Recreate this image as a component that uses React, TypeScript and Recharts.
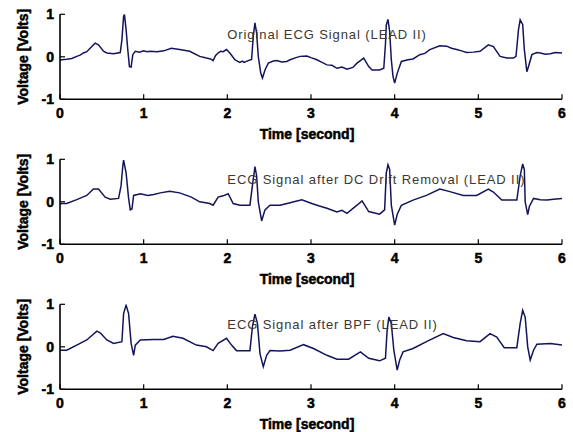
import React from 'react';
import { LineChart, Line, XAxis, YAxis, ReferenceDot } from 'recharts';

// ---- data (time in seconds, voltage in volts) ----
const xTicks = [0, 1, 2, 3, 4, 5, 6];
const yTicks = [-1, 0, 1];
const titles = [
  'Original ECG Signal (LEAD II)',
  'ECG Signal after DC Drift Removal (LEAD II)',
  'ECG Signal after BPF (LEAD II)',
];

const t1 = [0, 0.02, 0.08, 0.14, 0.2, 0.24, 0.28, 0.32, 0.36, 0.42, 0.46, 0.52, 0.56, 0.64, 0.72, 0.74, 0.76, 0.77, 0.79, 0.81, 0.83, 0.85, 0.87, 0.9, 0.95, 1.0, 1.04, 1.08, 1.16, 1.24, 1.33, 1.43, 1.55, 1.67, 1.75, 1.8, 1.83, 1.86, 1.89, 1.92, 1.95, 1.99, 2.03, 2.09, 2.12, 2.15, 2.18, 2.2, 2.25, 2.29, 2.31, 2.33, 2.35, 2.37, 2.4, 2.42, 2.45, 2.49, 2.55, 2.59, 2.65, 2.71, 2.75, 2.82, 2.87, 2.95, 3.0, 3.07, 3.12, 3.19, 3.25, 3.31, 3.37, 3.43, 3.5, 3.55, 3.63, 3.69, 3.73, 3.82, 3.87, 3.89, 3.9, 3.92, 3.94, 3.96, 3.98, 4.0, 4.03, 4.08, 4.16, 4.22, 4.3, 4.36, 4.42, 4.54, 4.62, 4.68, 4.74, 4.8, 4.86, 4.94, 5.02, 5.12, 5.18, 5.26, 5.34, 5.42, 5.45, 5.48, 5.5, 5.53, 5.55, 5.58, 5.6, 5.64, 5.7, 5.74, 5.8, 5.86, 5.92, 6.0];
const v1 = [-0.08, -0.07, -0.06, -0.04, 0.01, 0.04, 0.09, 0.12, 0.2, 0.32, 0.28, 0.13, 0.09, 0.07, 0.1, 0.4, 0.95, 1.0, 0.64, 0.17, -0.23, -0.24, 0.05, 0.13, 0.11, 0.14, 0.12, 0.13, 0.12, 0.14, 0.2, 0.17, 0.13, 0.01, -0.03, -0.05, -0.09, 0.03, 0.09, 0.13, 0.12, 0.17, 0.09, -0.07, -0.1, -0.13, -0.1, -0.13, -0.09, -0.06, 0.48, 0.8, 0.56, 0.01, -0.39, -0.5, -0.31, -0.15, -0.1, -0.09, -0.12, -0.11, -0.07, -0.02, 0.01, 0.02, -0.02, -0.07, -0.12, -0.19, -0.2, -0.27, -0.24, -0.29, -0.25, -0.15, -0.03, -0.23, -0.31, -0.31, -0.27, 0.3, 0.75, 0.88, 0.6, -0.07, -0.46, -0.62, -0.39, -0.11, -0.07, -0.05, 0.05, 0.08, 0.17, 0.26, 0.25, 0.2, 0.17, 0.14, 0.1, 0.11, 0.13, 0.28, 0.24, 0.01, -0.03, -0.03, 0.01, 0.64, 0.87, 0.76, 0.17, -0.35, -0.23, 0.05, 0.1, 0.09, 0.06, 0.07, 0.1, 0.09];

const t2 = [0, 0.02, 0.08, 0.2, 0.32, 0.4, 0.46, 0.54, 0.6, 0.7, 0.73, 0.75, 0.76, 0.79, 0.82, 0.84, 0.86, 0.88, 0.96, 1.05, 1.12, 1.2, 1.31, 1.43, 1.57, 1.67, 1.79, 1.83, 1.89, 1.95, 2.01, 2.07, 2.15, 2.27, 2.3, 2.33, 2.35, 2.37, 2.41, 2.45, 2.51, 2.63, 2.75, 2.89, 3.01, 3.1, 3.19, 3.31, 3.37, 3.43, 3.55, 3.61, 3.69, 3.82, 3.88, 3.9, 3.92, 3.94, 3.96, 4.0, 4.03, 4.08, 4.22, 4.38, 4.54, 4.66, 4.82, 4.98, 5.12, 5.18, 5.28, 5.46, 5.5, 5.53, 5.55, 5.56, 5.59, 5.61, 5.66, 5.74, 5.82, 5.9, 6.0];
const v2 = [-0.05, -0.04, -0.04, 0.05, 0.15, 0.3, 0.3, 0.11, 0.06, 0.08, 0.38, 0.83, 0.98, 0.68, 0.08, -0.19, -0.17, 0.15, 0.19, 0.15, 0.17, 0.21, 0.25, 0.21, 0.11, 0, -0.04, -0.08, 0.11, 0.14, 0.19, -0.04, -0.08, -0.08, 0.38, 0.83, 0.61, 0, -0.45, -0.19, -0.08, -0.08, -0.02, 0.05, -0.04, -0.1, -0.15, -0.24, -0.2, -0.27, -0.08, 0.02, -0.23, -0.29, -0.19, 0.68, 0.87, 0.76, -0.08, -0.55, -0.3, -0.08, 0.04, 0.15, 0.3, 0.24, 0.15, 0.15, 0.3, 0.23, 0.04, 0.04, 0.61, 0.89, 0.76, 0, -0.3, -0.11, 0.08, 0.05, 0.04, 0.06, 0.08];

const t3 = [0, 0.02, 0.08, 0.2, 0.32, 0.44, 0.48, 0.56, 0.64, 0.74, 0.76, 0.79, 0.82, 0.85, 0.88, 0.9, 0.96, 1.12, 1.24, 1.35, 1.47, 1.63, 1.75, 1.83, 1.89, 1.99, 2.05, 2.11, 2.27, 2.3, 2.33, 2.36, 2.39, 2.43, 2.47, 2.51, 2.63, 2.75, 2.91, 3.03, 3.19, 3.31, 3.45, 3.59, 3.69, 3.82, 3.89, 3.91, 3.93, 3.96, 3.99, 4.03, 4.06, 4.1, 4.22, 4.38, 4.58, 4.7, 4.86, 5.02, 5.14, 5.22, 5.31, 5.46, 5.5, 5.53, 5.56, 5.59, 5.62, 5.66, 5.7, 5.86, 6.0];
const v3 = [-0.08, -0.08, -0.08, 0.04, 0.16, 0.37, 0.33, 0.16, 0.08, 0.12, 0.78, 0.98, 0.78, 0.08, -0.2, 0.04, 0.16, 0.17, 0.17, 0.25, 0.2, 0.04, 0, -0.09, 0.08, 0.2, 0.04, -0.09, -0.09, 0.47, 0.77, 0.55, -0.16, -0.47, -0.2, -0.09, -0.1, -0.08, 0.05, -0.04, -0.2, -0.29, -0.29, -0.12, -0.27, -0.33, -0.27, 0.39, 0.7, 0.55, -0.08, -0.55, -0.31, -0.12, -0.04, 0.12, 0.31, 0.22, 0.14, 0.12, 0.31, 0.23, -0.02, -0.02, 0.55, 0.86, 0.7, 0, -0.31, -0.08, 0.06, 0.08, 0.04];

const build = (t: number[], v: number[]) => t.map((x, i) => ({ t: x, v: v[i] }));
const series = [build(t1, v1), build(t2, v2), build(t3, v3)];

const FONT = '"Liberation Sans", Arial, sans-serif';
const LINE = '#14145a';

const EmptyTick = () => <g />;

function Panel({ data, title, top, height }: { data: any[]; title: string; top: number; height: number }) {
  const xAxisH = height - 14.3 - 85;
  const tickStyle = { fontFamily: FONT, fontSize: 14, fontWeight: 700, fill: '#000', stroke: '#000', strokeWidth: 0.5 };
  const labelStyle = { fontFamily: FONT, fontSize: 14, fontWeight: 700 };
  return (
    <div style={{ position: 'absolute', left: 0, top, width: 573, height }}>
      <LineChart width={573} height={height} data={data} margin={{ top: 14.3, right: 11, left: 0, bottom: 0 }}>
        <XAxis
          dataKey="t"
          type="number"
          domain={[0, 6]}
          ticks={xTicks}
          allowDataOverflow
          height={xAxisH}
          tickSize={-5}
          tickMargin={14}
          tick={tickStyle}
          axisLine={{ stroke: '#000', strokeWidth: 1.6 }}
          tickLine={{ stroke: '#000', strokeWidth: 1.2 }}
          label={(p: any) => {
            const vb = p.viewBox;
            return (
              <text x={vb.x + vb.width / 2 - 4} y={vb.y + 35} textAnchor="middle" dominantBaseline="central"
                style={labelStyle} fill="#000" stroke="#000" strokeWidth={0.5}>Time [second]</text>
            );
          }}
        />
        <XAxis
          xAxisId="top"
          orientation="top"
          type="number"
          domain={[0, 6]}
          ticks={xTicks}
          height={0}
          tickSize={-5}
          tick={EmptyTick}
          axisLine={{ stroke: '#000', strokeWidth: 1.6 }}
          tickLine={{ stroke: '#000', strokeWidth: 1.2 }}
        />
        <YAxis
          type="number"
          domain={[-1, 1]}
          ticks={yTicks}
          allowDataOverflow
          width={60}
          tickSize={-5}
          tickMargin={11}
          tick={tickStyle}
          axisLine={{ stroke: '#000', strokeWidth: 1.6 }}
          tickLine={{ stroke: '#000', strokeWidth: 1.2 }}
          label={(p: any) => {
            const vb = p.viewBox;
            const cy = vb.y + vb.height / 2;
            return (
              <text x={23} y={cy} transform={`rotate(-90, 23, ${cy})`} textAnchor="middle" dominantBaseline="central"
                style={labelStyle} fill="#000" stroke="#000" strokeWidth={0.5}>Voltage [Volts]</text>
            );
          }}
        />
        <YAxis
          yAxisId="right"
          orientation="right"
          type="number"
          domain={[-1, 1]}
          ticks={yTicks}
          width={0}
          tickSize={-5}
          tick={EmptyTick}
          axisLine={{ stroke: '#000', strokeWidth: 1.6 }}
          tickLine={{ stroke: '#000', strokeWidth: 1.2 }}
        />
        <Line dataKey="v" type="linear" stroke={LINE} strokeWidth={1.5} dot={false} isAnimationActive={false} />
        <ReferenceDot
          x={2}
          y={0.53}
          r={0}
          shape={(p: any) => (
            <text x={p.cx} y={p.cy} textAnchor="start" dominantBaseline="central"
              style={{ fontFamily: FONT, fontSize: 13, letterSpacing: '0.9px' }} fill="#3b3830">{title}</text>
          )}
        />
      </LineChart>
    </div>
  );
}

export default function App() {
  return (
    <div style={{ position: 'absolute', left: 0, top: 0, width: 573, height: 432, overflow: 'hidden', background: '#fff' }}>
      <Panel data={series[0]} title={titles[0]} top={0} height={145} />
      <Panel data={series[1]} title={titles[1]} top={145} height={145} />
      <Panel data={series[2]} title={titles[2]} top={290} height={142} />
    </div>
  );
}
